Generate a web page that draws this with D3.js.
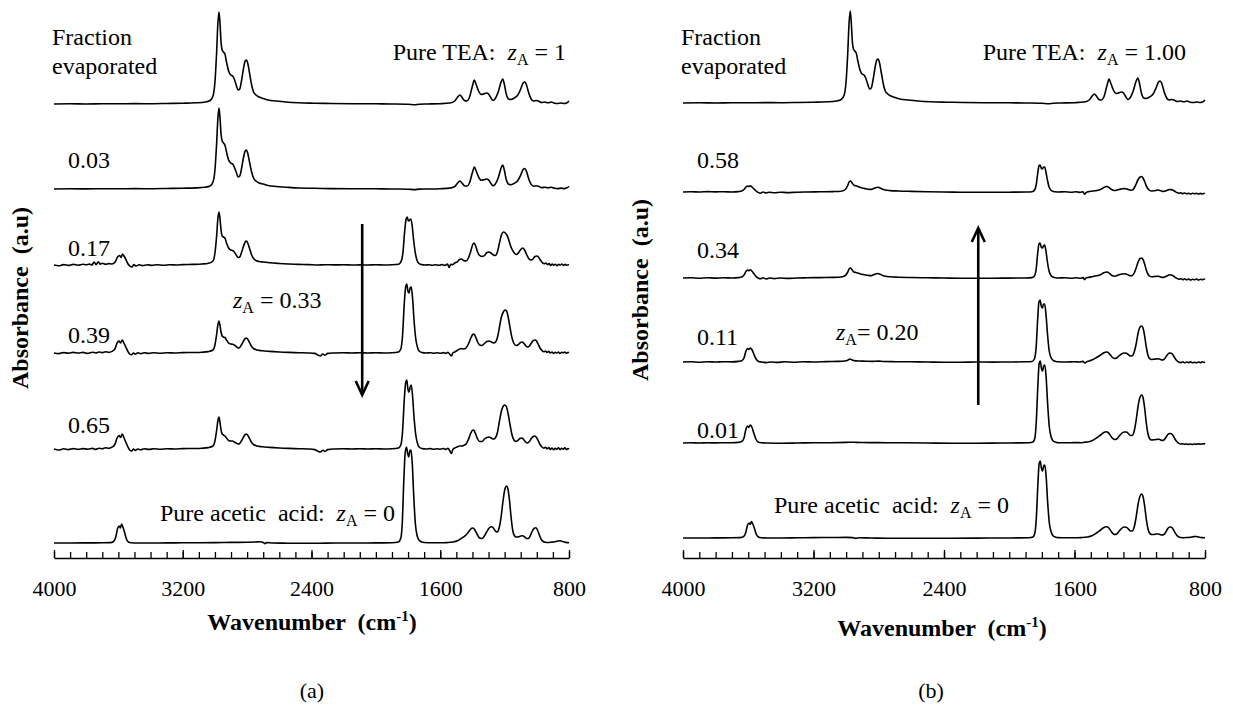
<!DOCTYPE html>
<html><head><meta charset="utf-8">
<script src="https://cdn.jsdelivr.net/npm/d3@7"></script>
<style>
html,body{margin:0;padding:0;background:#fff;}
svg{display:block;}
</style></head><body>
<svg id="chart" width="1233" height="708"></svg>
<script>
const wavenumberTicks = [4000, 3200, 2400, 1600, 800];
const specTEA = [[4000,0.000],[3900,0.002],[3800,0.000],[3700,0.003],[3600,0.002],[3500,0.004],[3400,0.003],[3300,0.005],[3200,0.008],[3120,0.012],[3060,0.020],[3030,0.035],[3012,0.08],[3000,0.22],[2990,0.50],[2982,0.80],[2975,0.92],[2969,0.82],[2962,0.62],[2955,0.54],[2947,0.52],[2938,0.50],[2928,0.42],[2915,0.33],[2902,0.29],[2890,0.28],[2880,0.25],[2868,0.19],[2856,0.14],[2846,0.15],[2834,0.24],[2822,0.36],[2812,0.43],[2804,0.44],[2795,0.40],[2784,0.30],[2772,0.19],[2760,0.12],[2745,0.09],[2725,0.07],[2700,0.055],[2670,0.04],[2620,0.03],[2560,0.02],[2480,0.012],[2380,0.008],[2280,0.005],[2150,0.003],[2000,0.002],[1900,0.000],[1800,-0.003],[1760,-0.008],[1730,-0.002],[1680,0.000],[1600,0.003],[1540,0.010],[1510,0.030],[1492,0.070],[1478,0.090],[1466,0.070],[1450,0.035],[1436,0.030],[1420,0.060],[1400,0.180],[1388,0.240],[1378,0.200],[1362,0.130],[1345,0.095],[1330,0.100],[1312,0.110],[1300,0.100],[1285,0.060],[1272,0.035],[1260,0.050],[1240,0.120],[1222,0.220],[1212,0.250],[1202,0.200],[1190,0.100],[1175,0.050],[1160,0.045],[1140,0.060],[1118,0.090],[1100,0.150],[1085,0.210],[1075,0.220],[1064,0.190],[1050,0.110],[1035,0.050],[1020,0.030],[1005,0.035],[990,0.030],[970,0.015],[950,0.020],[930,0.012],[910,0.020],[890,0.008],[870,0.005],[850,0.010],[830,0.005],[815,0.010],[800,0.030]];
const specA003 = [[4000,0.000],[3900,0.002],[3800,0.001],[3700,0.003],[3600,0.002],[3500,0.004],[3400,0.003],[3300,0.005],[3200,0.008],[3120,0.011],[3060,0.018],[3030,0.030],[3012,0.07],[3000,0.19],[2990,0.44],[2982,0.70],[2975,0.81],[2969,0.72],[2962,0.55],[2955,0.48],[2947,0.46],[2938,0.44],[2928,0.37],[2915,0.29],[2902,0.26],[2890,0.25],[2880,0.22],[2868,0.17],[2856,0.12],[2846,0.13],[2834,0.21],[2822,0.32],[2812,0.38],[2804,0.39],[2795,0.35],[2784,0.26],[2772,0.17],[2760,0.11],[2745,0.08],[2725,0.06],[2700,0.05],[2670,0.035],[2620,0.025],[2560,0.018],[2480,0.010],[2380,0.007],[2280,0.004],[2150,0.003],[2000,0.002],[1900,0.000],[1800,-0.002],[1760,-0.006],[1730,-0.001],[1680,0.000],[1600,0.003],[1540,0.009],[1510,0.025],[1492,0.060],[1478,0.080],[1466,0.062],[1450,0.032],[1436,0.028],[1420,0.055],[1400,0.165],[1388,0.220],[1378,0.185],[1362,0.120],[1345,0.088],[1330,0.092],[1312,0.100],[1300,0.092],[1285,0.055],[1272,0.032],[1260,0.046],[1240,0.110],[1222,0.210],[1212,0.240],[1202,0.190],[1190,0.095],[1175,0.048],[1160,0.043],[1140,0.056],[1118,0.085],[1100,0.140],[1085,0.195],[1075,0.205],[1064,0.175],[1050,0.100],[1035,0.046],[1020,0.028],[1005,0.032],[990,0.028],[970,0.014],[950,0.018],[930,0.011],[910,0.018],[890,0.007],[870,0.004],[850,0.009],[830,0.004],[815,0.009],[800,0.028]];
const specA017 = [[4000,0.000],[3970,-0.008],[3940,0.004],[3910,-0.004],[3880,0.006],[3850,-0.002],[3820,0.008],[3800,0.002],[3780,0.010],[3765,0.000],[3750,0.030],[3738,0.004],[3725,0.032],[3712,0.008],[3700,0.018],[3680,0.006],[3660,0.014],[3640,0.010],[3620,0.030],[3605,0.080],[3592,0.095],[3583,0.075],[3574,0.110],[3565,0.090],[3552,0.050],[3540,0.010],[3528,-0.012],[3516,-0.020],[3504,0.004],[3490,-0.010],[3470,0.002],[3450,-0.006],[3420,0.002],[3390,-0.004],[3360,0.003],[3320,-0.002],[3280,0.003],[3240,0.000],[3200,0.004],[3140,0.006],[3080,0.010],[3040,0.018],[3012,0.04],[3000,0.12],[2990,0.28],[2982,0.46],[2975,0.53],[2969,0.47],[2962,0.35],[2955,0.29],[2947,0.28],[2938,0.27],[2928,0.22],[2915,0.17],[2902,0.15],[2890,0.145],[2880,0.13],[2868,0.10],[2856,0.075],[2846,0.08],[2834,0.13],[2822,0.19],[2812,0.23],[2804,0.24],[2795,0.215],[2784,0.16],[2772,0.10],[2760,0.065],[2745,0.045],[2725,0.035],[2700,0.03],[2660,0.022],[2600,0.015],[2540,0.010],[2480,0.006],[2420,0.004],[2360,0.000],[2320,0.003],[2260,0.001],[2200,0.002],[2150,0.000],[2100,0.001],[2050,0.000],[2000,0.002],[1950,0.000],[1900,0.002],[1860,0.008],[1845,0.03],[1832,0.12],[1822,0.32],[1812,0.46],[1805,0.48],[1798,0.44],[1790,0.45],[1783,0.46],[1775,0.40],[1766,0.26],[1755,0.12],[1745,0.05],[1732,0.015],[1715,0.004],[1695,0.000],[1670,0.003],[1650,-0.002],[1630,0.002],[1610,-0.003],[1590,0.004],[1570,-0.004],[1555,0.010],[1545,-0.025],[1535,0.008],[1522,0.004],[1510,0.020],[1495,0.030],[1480,0.055],[1468,0.060],[1455,0.045],[1440,0.040],[1425,0.070],[1410,0.140],[1398,0.205],[1390,0.220],[1380,0.190],[1368,0.130],[1355,0.095],[1340,0.085],[1325,0.095],[1310,0.125],[1298,0.130],[1285,0.120],[1270,0.100],[1258,0.095],[1245,0.130],[1232,0.220],[1220,0.300],[1208,0.330],[1196,0.320],[1186,0.300],[1176,0.260],[1165,0.200],[1152,0.150],[1140,0.120],[1128,0.105],[1115,0.120],[1100,0.155],[1088,0.170],[1076,0.150],[1062,0.100],[1048,0.060],[1036,0.050],[1024,0.060],[1012,0.085],[1000,0.090],[990,0.080],[978,0.050],[966,0.025],[954,0.012],[944,0.020],[934,0.004],[924,0.014],[914,-0.004],[904,0.010],[894,-0.002],[884,0.008],[874,-0.006],[864,0.006],[854,0.000],[844,0.010],[834,-0.004],[824,0.006],[814,-0.002],[800,0.004]];
const specA039 = [[4000,0.000],[3970,-0.006],[3940,0.004],[3910,-0.002],[3880,0.006],[3850,0.000],[3820,0.006],[3790,-0.004],[3760,0.008],[3740,0.000],[3720,0.010],[3700,0.004],[3680,0.012],[3660,0.006],[3640,0.016],[3622,0.040],[3608,0.100],[3596,0.120],[3586,0.100],[3576,0.130],[3566,0.100],[3554,0.060],[3542,0.020],[3530,-0.010],[3518,-0.018],[3506,0.000],[3494,-0.012],[3480,0.002],[3460,-0.006],[3440,0.002],[3410,-0.004],[3380,0.003],[3340,-0.002],[3300,0.002],[3250,0.000],[3200,0.004],[3140,0.005],[3080,0.008],[3040,0.014],[3012,0.03],[3000,0.08],[2990,0.18],[2982,0.28],[2975,0.32],[2969,0.28],[2962,0.21],[2955,0.17],[2947,0.16],[2938,0.155],[2928,0.13],[2915,0.10],[2902,0.09],[2890,0.088],[2880,0.08],[2868,0.065],[2856,0.05],[2846,0.055],[2834,0.085],[2822,0.12],[2812,0.145],[2804,0.15],[2795,0.135],[2784,0.10],[2772,0.065],[2760,0.045],[2745,0.033],[2725,0.026],[2700,0.022],[2660,0.016],[2600,0.010],[2540,0.006],[2480,0.003],[2420,0.000],[2380,-0.004],[2360,-0.020],[2345,-0.030],[2330,-0.010],[2315,-0.022],[2300,-0.004],[2260,0.000],[2200,0.002],[2150,0.000],[2100,0.002],[2050,0.000],[2000,0.002],[1950,0.000],[1900,0.002],[1860,0.010],[1845,0.04],[1834,0.18],[1824,0.48],[1815,0.66],[1808,0.69],[1801,0.62],[1794,0.60],[1787,0.65],[1780,0.66],[1772,0.55],[1763,0.33],[1752,0.14],[1740,0.05],[1728,0.015],[1712,0.004],[1690,0.000],[1660,0.003],[1640,-0.002],[1620,0.002],[1600,-0.003],[1580,0.004],[1565,-0.004],[1552,0.006],[1540,-0.015],[1530,-0.030],[1522,0.000],[1510,0.010],[1495,0.025],[1480,0.040],[1468,0.045],[1455,0.040],[1440,0.050],[1425,0.090],[1410,0.150],[1398,0.185],[1390,0.190],[1380,0.160],[1368,0.110],[1355,0.080],[1340,0.075],[1325,0.095],[1310,0.115],[1296,0.120],[1282,0.110],[1268,0.100],[1256,0.110],[1244,0.160],[1232,0.260],[1220,0.360],[1208,0.410],[1198,0.430],[1188,0.420],[1178,0.360],[1166,0.250],[1154,0.150],[1142,0.095],[1130,0.075],[1118,0.080],[1105,0.100],[1093,0.110],[1082,0.100],[1070,0.075],[1058,0.060],[1046,0.070],[1034,0.100],[1022,0.125],[1012,0.130],[1002,0.120],[992,0.090],[980,0.050],[968,0.025],[956,0.012],[946,0.020],[936,0.006],[926,0.016],[916,0.000],[906,0.010],[896,-0.004],[886,0.008],[876,0.000],[866,0.010],[856,-0.004],[846,0.006],[836,0.002],[826,0.010],[816,-0.002],[806,0.006],[800,0.002]];
const specA065 = [[4000,0.000],[3970,-0.010],[3940,0.002],[3910,-0.006],[3880,0.004],[3850,-0.004],[3820,0.004],[3790,-0.002],[3760,0.006],[3740,-0.004],[3720,0.008],[3700,0.002],[3680,0.012],[3660,0.006],[3640,0.018],[3622,0.045],[3608,0.110],[3596,0.135],[3586,0.115],[3576,0.150],[3566,0.115],[3554,0.070],[3542,0.025],[3530,-0.010],[3518,-0.020],[3506,0.000],[3494,-0.014],[3480,0.000],[3460,-0.008],[3440,0.002],[3410,-0.004],[3380,0.002],[3340,-0.003],[3300,0.002],[3250,0.000],[3200,0.004],[3140,0.005],[3080,0.008],[3040,0.014],[3012,0.03],[3000,0.08],[2990,0.18],[2982,0.28],[2975,0.32],[2969,0.27],[2962,0.19],[2955,0.15],[2947,0.14],[2938,0.13],[2928,0.11],[2915,0.085],[2902,0.08],[2890,0.08],[2880,0.07],[2868,0.06],[2856,0.05],[2846,0.055],[2834,0.085],[2822,0.12],[2812,0.145],[2804,0.15],[2795,0.135],[2784,0.10],[2772,0.065],[2760,0.045],[2745,0.033],[2725,0.026],[2700,0.022],[2660,0.016],[2600,0.010],[2540,0.006],[2480,0.003],[2420,0.000],[2380,-0.006],[2360,-0.022],[2345,-0.030],[2330,-0.012],[2315,-0.024],[2300,-0.006],[2260,0.000],[2200,0.002],[2150,0.000],[2100,0.002],[2050,0.000],[2000,0.002],[1950,0.000],[1900,0.002],[1860,0.010],[1845,0.04],[1834,0.18],[1824,0.48],[1815,0.66],[1808,0.69],[1801,0.60],[1794,0.57],[1787,0.62],[1780,0.64],[1772,0.53],[1763,0.32],[1752,0.14],[1740,0.05],[1728,0.015],[1712,0.004],[1690,0.000],[1660,0.004],[1640,-0.002],[1620,0.003],[1600,-0.002],[1580,0.005],[1565,-0.004],[1552,0.008],[1540,-0.020],[1530,-0.045],[1522,-0.005],[1510,0.010],[1495,0.020],[1480,0.030],[1468,0.030],[1455,0.035],[1440,0.050],[1425,0.095],[1410,0.160],[1398,0.190],[1390,0.185],[1380,0.150],[1368,0.100],[1355,0.075],[1340,0.075],[1325,0.100],[1310,0.115],[1296,0.120],[1282,0.108],[1268,0.100],[1256,0.115],[1244,0.170],[1232,0.280],[1220,0.380],[1208,0.430],[1198,0.440],[1188,0.420],[1178,0.350],[1166,0.240],[1154,0.140],[1142,0.090],[1130,0.075],[1118,0.085],[1105,0.105],[1093,0.110],[1082,0.095],[1070,0.070],[1058,0.060],[1046,0.075],[1034,0.105],[1022,0.125],[1012,0.130],[1002,0.115],[992,0.085],[980,0.045],[968,0.020],[956,0.008],[946,0.018],[936,0.002],[926,0.014],[916,-0.004],[906,0.010],[896,-0.008],[886,0.006],[876,-0.004],[866,0.012],[856,-0.006],[846,0.008],[836,-0.002],[826,0.012],[816,-0.006],[806,0.004],[800,-0.002]];
const specAacetic = [[4000,0.000],[3900,0.000],[3800,0.001],[3700,0.002],[3650,0.004],[3630,0.015],[3616,0.060],[3604,0.150],[3595,0.170],[3588,0.150],[3580,0.190],[3572,0.160],[3562,0.110],[3550,0.040],[3538,0.010],[3520,0.002],[3480,0.000],[3400,0.000],[3300,0.001],[3200,0.002],[3100,0.003],[3000,0.004],[2900,0.006],[2800,0.008],[2750,0.010],[2720,0.012],[2700,0.006],[2690,-0.006],[2680,0.004],[2640,0.000],[2550,-0.002],[2450,-0.003],[2350,-0.002],[2250,0.000],[2100,0.000],[2000,0.001],[1900,0.003],[1860,0.010],[1845,0.05],[1836,0.20],[1827,0.60],[1818,0.90],[1810,0.96],[1803,0.90],[1796,0.86],[1789,0.92],[1782,0.93],[1774,0.80],[1765,0.48],[1755,0.20],[1743,0.07],[1730,0.025],[1715,0.010],[1700,0.005],[1650,0.002],[1600,0.002],[1560,0.004],[1520,0.010],[1490,0.025],[1465,0.050],[1440,0.080],[1420,0.120],[1405,0.148],[1396,0.150],[1385,0.130],[1370,0.085],[1355,0.050],[1342,0.045],[1328,0.065],[1312,0.110],[1296,0.150],[1282,0.162],[1270,0.150],[1258,0.120],[1246,0.110],[1234,0.150],[1222,0.260],[1210,0.420],[1198,0.540],[1188,0.570],[1180,0.545],[1170,0.430],[1160,0.260],[1150,0.130],[1140,0.075],[1128,0.060],[1114,0.062],[1100,0.070],[1088,0.072],[1076,0.062],[1064,0.045],[1052,0.045],[1040,0.075],[1028,0.120],[1016,0.148],[1006,0.152],[996,0.130],[984,0.080],[972,0.035],[960,0.015],[948,0.008],[930,0.005],[910,0.008],[890,0.012],[870,0.020],[855,0.022],[840,0.015],[820,0.006],[800,0.003]];
const specB058 = [[4000,0.000],[3950,0.003],[3900,0.000],[3850,0.004],[3800,0.001],[3750,0.003],[3700,0.000],[3660,0.004],[3640,0.010],[3626,0.025],[3614,0.050],[3604,0.060],[3596,0.055],[3588,0.062],[3578,0.052],[3566,0.032],[3552,0.010],[3540,-0.004],[3525,-0.012],[3510,0.000],[3490,-0.010],[3470,-0.002],[3440,-0.008],[3400,-0.002],[3360,-0.006],[3300,-0.002],[3240,0.000],[3160,0.002],[3080,0.004],[3030,0.008],[3005,0.025],[2990,0.065],[2980,0.105],[2973,0.110],[2965,0.095],[2952,0.068],[2940,0.062],[2928,0.056],[2912,0.045],[2895,0.038],[2880,0.032],[2865,0.028],[2850,0.026],[2835,0.032],[2820,0.042],[2806,0.048],[2795,0.042],[2780,0.030],[2760,0.020],[2730,0.014],[2680,0.010],[2600,0.006],[2500,0.002],[2400,0.000],[2300,-0.002],[2200,-0.003],[2100,-0.003],[2000,-0.002],[1900,0.000],[1860,0.003],[1846,0.016],[1835,0.07],[1826,0.18],[1818,0.26],[1811,0.27],[1804,0.24],[1797,0.23],[1790,0.25],[1783,0.25],[1775,0.20],[1766,0.12],[1756,0.05],[1744,0.018],[1730,0.006],[1715,0.002],[1700,0.000],[1660,0.002],[1620,-0.002],[1590,0.002],[1565,-0.004],[1548,0.002],[1538,-0.022],[1528,-0.004],[1512,0.004],[1495,0.008],[1475,0.012],[1455,0.018],[1438,0.028],[1420,0.045],[1405,0.055],[1396,0.052],[1385,0.040],[1370,0.022],[1355,0.015],[1342,0.018],[1328,0.026],[1312,0.030],[1298,0.034],[1284,0.032],[1270,0.024],[1258,0.018],[1246,0.020],[1234,0.040],[1222,0.080],[1210,0.125],[1198,0.150],[1188,0.155],[1180,0.140],[1170,0.105],[1160,0.062],[1150,0.032],[1140,0.016],[1128,0.010],[1114,0.012],[1100,0.016],[1088,0.020],[1076,0.016],[1064,0.008],[1052,0.006],[1040,0.012],[1028,0.020],[1016,0.025],[1006,0.024],[996,0.018],[984,0.006],[972,-0.006],[960,-0.012],[948,-0.008],[936,-0.016],[924,-0.010],[912,-0.018],[900,-0.012],[888,-0.020],[876,-0.012],[864,-0.018],[852,-0.012],[840,-0.020],[828,-0.014],[816,-0.020],[806,-0.012],[800,-0.016]];
const specB034 = [[4000,0.000],[3950,0.002],[3900,-0.002],[3850,0.003],[3800,-0.001],[3750,0.002],[3700,0.000],[3660,0.004],[3640,0.010],[3626,0.030],[3614,0.065],[3604,0.080],[3596,0.072],[3588,0.082],[3578,0.070],[3566,0.045],[3552,0.015],[3540,0.000],[3525,-0.008],[3510,0.002],[3490,-0.010],[3470,0.000],[3440,-0.006],[3400,0.000],[3360,-0.004],[3300,0.000],[3240,0.002],[3160,0.004],[3080,0.006],[3030,0.010],[3005,0.025],[2990,0.060],[2980,0.095],[2973,0.100],[2965,0.085],[2952,0.060],[2940,0.055],[2928,0.050],[2912,0.040],[2895,0.035],[2880,0.030],[2865,0.026],[2850,0.024],[2835,0.030],[2820,0.040],[2806,0.045],[2795,0.040],[2780,0.028],[2760,0.018],[2730,0.012],[2680,0.008],[2600,0.005],[2500,0.002],[2400,0.000],[2300,-0.002],[2200,-0.002],[2100,-0.002],[2000,-0.001],[1900,0.000],[1860,0.004],[1846,0.020],[1835,0.09],[1826,0.24],[1818,0.34],[1811,0.35],[1804,0.31],[1797,0.30],[1790,0.32],[1783,0.33],[1775,0.27],[1766,0.16],[1756,0.07],[1744,0.025],[1730,0.008],[1715,0.002],[1700,0.000],[1660,0.002],[1620,-0.002],[1590,0.002],[1565,-0.002],[1548,0.004],[1538,-0.016],[1528,0.002],[1512,0.006],[1495,0.012],[1475,0.020],[1455,0.025],[1438,0.035],[1420,0.052],[1405,0.060],[1396,0.058],[1385,0.045],[1370,0.025],[1355,0.018],[1342,0.022],[1328,0.032],[1312,0.038],[1298,0.042],[1284,0.040],[1270,0.030],[1258,0.022],[1246,0.025],[1234,0.050],[1222,0.100],[1210,0.160],[1198,0.195],[1188,0.200],[1180,0.185],[1170,0.140],[1160,0.080],[1150,0.040],[1140,0.020],[1128,0.012],[1114,0.014],[1100,0.016],[1088,0.018],[1076,0.012],[1064,0.006],[1052,0.008],[1040,0.015],[1028,0.025],[1016,0.032],[1006,0.030],[996,0.022],[984,0.008],[972,-0.004],[960,-0.012],[948,-0.006],[936,-0.016],[924,-0.008],[912,-0.018],[900,-0.010],[888,-0.020],[876,-0.012],[864,-0.018],[852,-0.010],[840,-0.020],[828,-0.012],[816,-0.018],[806,-0.010],[800,-0.016]];
const specB011 = [[4000,0.000],[3950,0.002],[3900,-0.002],[3850,0.002],[3800,0.000],[3750,0.003],[3700,0.001],[3660,0.006],[3640,0.012],[3626,0.040],[3614,0.110],[3604,0.135],[3596,0.125],[3588,0.140],[3578,0.125],[3566,0.080],[3552,0.030],[3540,0.008],[3520,0.000],[3490,-0.006],[3460,0.000],[3420,-0.004],[3380,0.002],[3320,-0.002],[3260,0.002],[3200,0.000],[3120,0.004],[3050,0.006],[3010,0.010],[2990,0.018],[2978,0.030],[2968,0.024],[2950,0.014],[2920,0.010],[2880,0.008],[2840,0.006],[2800,0.009],[2770,0.005],[2700,0.003],[2600,0.002],[2500,0.000],[2400,-0.002],[2300,-0.002],[2200,0.000],[2100,-0.001],[2000,0.000],[1900,0.002],[1860,0.005],[1846,0.030],[1835,0.15],[1826,0.42],[1818,0.60],[1811,0.62],[1804,0.56],[1797,0.54],[1790,0.58],[1783,0.58],[1775,0.48],[1766,0.29],[1756,0.12],[1744,0.045],[1730,0.015],[1715,0.006],[1700,0.002],[1650,0.000],[1600,0.003],[1570,0.000],[1550,0.006],[1535,-0.012],[1525,0.004],[1510,0.010],[1490,0.022],[1465,0.045],[1440,0.070],[1420,0.092],[1405,0.100],[1396,0.098],[1385,0.080],[1370,0.050],[1355,0.035],[1342,0.040],[1328,0.060],[1312,0.080],[1296,0.090],[1282,0.088],[1270,0.075],[1258,0.060],[1246,0.062],[1234,0.100],[1222,0.180],[1210,0.290],[1198,0.350],[1188,0.360],[1180,0.340],[1170,0.260],[1160,0.150],[1150,0.070],[1140,0.035],[1128,0.025],[1114,0.028],[1100,0.030],[1088,0.032],[1076,0.028],[1064,0.020],[1052,0.025],[1040,0.050],[1028,0.078],[1016,0.090],[1006,0.088],[996,0.070],[984,0.038],[972,0.012],[960,0.000],[948,-0.006],[936,0.002],[924,-0.008],[912,0.000],[900,-0.006],[888,0.002],[876,-0.008],[864,-0.002],[852,-0.008],[840,0.000],[828,-0.006],[816,0.002],[806,-0.004],[800,0.002]];
const specB001 = [[4000,0.000],[3950,0.002],[3900,0.000],[3850,0.002],[3800,0.001],[3750,0.003],[3700,0.002],[3660,0.006],[3640,0.015],[3626,0.050],[3614,0.140],[3604,0.170],[3596,0.155],[3588,0.180],[3578,0.160],[3566,0.100],[3552,0.035],[3540,0.010],[3520,0.002],[3480,0.000],[3400,-0.002],[3300,0.000],[3200,0.002],[3100,0.003],[3000,0.006],[2960,0.008],[2940,0.006],[2900,0.005],[2850,0.004],[2750,0.003],[2650,0.002],[2500,0.000],[2350,-0.002],[2200,-0.002],[2050,0.000],[1950,0.001],[1880,0.003],[1855,0.010],[1843,0.050],[1834,0.22],[1825,0.56],[1817,0.79],[1810,0.82],[1803,0.75],[1796,0.72],[1789,0.77],[1782,0.78],[1774,0.66],[1765,0.40],[1755,0.17],[1743,0.06],[1730,0.020],[1715,0.008],[1700,0.003],[1650,0.002],[1600,0.004],[1560,0.003],[1540,0.008],[1520,0.010],[1490,0.025],[1465,0.050],[1440,0.080],[1420,0.105],[1405,0.112],[1396,0.108],[1385,0.088],[1370,0.052],[1355,0.035],[1342,0.040],[1328,0.065],[1312,0.095],[1296,0.110],[1282,0.110],[1270,0.095],[1258,0.075],[1246,0.075],[1234,0.120],[1222,0.230],[1210,0.370],[1198,0.460],[1188,0.480],[1180,0.455],[1170,0.350],[1160,0.200],[1150,0.095],[1140,0.045],[1128,0.030],[1114,0.032],[1100,0.035],[1088,0.038],[1076,0.035],[1064,0.025],[1052,0.030],[1040,0.055],[1028,0.085],[1016,0.095],[1006,0.092],[996,0.075],[984,0.040],[972,0.012],[960,-0.004],[948,-0.010],[936,-0.008],[924,-0.012],[912,-0.010],[900,-0.014],[888,-0.010],[876,-0.014],[864,-0.010],[852,-0.013],[840,-0.009],[828,-0.012],[816,-0.008],[806,-0.010],[800,0.000]];
const specBacetic = [[4000,0.000],[3900,0.000],[3800,0.001],[3700,0.002],[3650,0.004],[3630,0.012],[3616,0.050],[3604,0.130],[3595,0.150],[3588,0.135],[3580,0.165],[3572,0.140],[3562,0.095],[3550,0.035],[3538,0.010],[3520,0.002],[3480,0.000],[3400,0.000],[3300,0.002],[3200,0.004],[3100,0.005],[3000,0.006],[2960,0.004],[2940,-0.004],[2920,0.002],[2850,0.000],[2750,-0.002],[2650,-0.003],[2500,-0.003],[2350,-0.002],[2200,-0.001],[2050,0.000],[1950,0.001],[1880,0.003],[1855,0.010],[1843,0.050],[1834,0.20],[1825,0.52],[1817,0.74],[1810,0.77],[1803,0.70],[1796,0.67],[1789,0.72],[1782,0.73],[1774,0.62],[1765,0.37],[1755,0.16],[1743,0.06],[1730,0.020],[1715,0.008],[1700,0.004],[1650,0.002],[1600,0.002],[1560,0.004],[1520,0.010],[1490,0.025],[1465,0.050],[1440,0.080],[1420,0.105],[1405,0.112],[1396,0.110],[1385,0.090],[1370,0.055],[1355,0.035],[1342,0.040],[1328,0.065],[1312,0.095],[1296,0.110],[1282,0.108],[1270,0.090],[1258,0.070],[1246,0.070],[1234,0.110],[1222,0.210],[1210,0.340],[1198,0.420],[1188,0.440],[1180,0.415],[1170,0.320],[1160,0.190],[1150,0.095],[1140,0.050],[1128,0.035],[1114,0.035],[1100,0.040],[1088,0.040],[1076,0.035],[1064,0.030],[1052,0.035],[1040,0.060],[1028,0.095],[1016,0.110],[1006,0.108],[996,0.090],[984,0.055],[972,0.025],[960,0.010],[948,0.005],[930,0.003],[910,0.005],[890,0.008],[870,0.014],[855,0.015],[840,0.010],[820,0.004],[800,0.002]];

const spectraA = [specTEA, specA003, specA017, specA039, specA065, specAacetic];
const offsetsA = [4.54, 3.69, 2.93, 2.05, 1.09, 0.15];
const fractionLabelsA = ["", "0.03", "0.17", "0.39", "0.65", ""];
const spectraB = [specTEA, specB058, specB034, specB011, specB001, specBacetic];
const offsetsB = [4.55, 3.66, 2.80, 1.96, 1.15, 0.20];
const fractionLabelsB = ["", "0.58", "0.34", "0.11", "0.01", ""];
const zAValues = ["0.33", "0.20"];
const pureTEAValues = ["1", "1.00"];

const FONT = '"Liberation Serif"';
const svg = d3.select("#chart");
const yScale = d3.scaleLinear().domain([0, 5.58]).range([558, 0]);

function txt(g, x, y, size) {
  return g.append("text").attr("x", x).attr("y", y)
    .attr("xml:space", "preserve")
    .style("font-family", FONT).style("font-size", size).style("fill", "#000");
}
function zText(sel, prefix, value, eqSpace) {
  if (prefix) sel.append("tspan").text(prefix);
  sel.append("tspan").style("font-style", "italic").text("z");
  sel.append("tspan").style("font-size", "16px").attr("dy", 5).text("A");
  sel.append("tspan").attr("dy", -5).text((eqSpace ? " = " : "= ") + value);
}

function drawPanel(cfg) {
  const g = svg.append("g");
  const x = d3.scaleLinear().domain([4000, 800]).range([cfg.x0, cfg.x1]);

  cfg.spectra.forEach((spec, i) => {
    const line = d3.line()
      .x(d => x(d[0]))
      .y(d => yScale(d[1] + cfg.offsets[i]))
      .curve(d3.curveMonotoneX);
    g.append("path").datum(spec)
      .attr("d", line).attr("fill", "none").attr("stroke", "#000")
      .attr("stroke-width", 1.6).attr("stroke-linejoin", "round");
  });

  const axisY = yScale(0);
  const minor = g.append("g").attr("transform", `translate(0,${axisY})`)
    .call(d3.axisBottom(x).tickValues(d3.range(800, 4001, 100)).tickSize(-6).tickFormat(""));
  minor.select(".domain").remove();
  minor.selectAll("line").attr("stroke-width", 1.3);
  const major = g.append("g").attr("transform", `translate(0,${axisY})`)
    .call(d3.axisBottom(x).tickValues(wavenumberTicks).tickSizeInner(-8).tickSizeOuter(0).tickPadding(22).tickFormat(d3.format("d")));
  major.select(".domain").attr("stroke-width", 1.6);
  major.selectAll("line").attr("stroke-width", 1.3);
  major.selectAll("text").style("font-size", "22px").style("font-family", FONT);

  const xt = txt(g, cfg.titleX, cfg.titleY, "24px").attr("text-anchor", "middle")
    .style("font-weight", "bold").style("white-space", "pre");
  xt.append("tspan").text("Wavenumber  (cm");
  xt.append("tspan").style("font-size", "15px").attr("dy", -9).text("-1");
  xt.append("tspan").attr("dy", 9).text(")");

  txt(g, 0, 0, "24px").attr("transform", `translate(${cfg.yLabelX},${cfg.yLabelY}) rotate(-90)`)
    .attr("text-anchor", "middle").style("font-weight", "bold")
    .style("white-space", "pre").text("Absorbance  (a.u)");

  txt(g, cfg.letterX, 698, "22px").attr("text-anchor", "middle").text(cfg.letter);

  const fs = "24px";
  txt(g, cfg.x0 - 2, 45, fs).text("Fraction");
  txt(g, cfg.x0 - 2, 74, fs).text("evaporated");
  const tea = txt(g, cfg.teaX, 60, fs).attr("text-anchor", "end").style("white-space", "pre");
  zText(tea, "Pure TEA:  ", cfg.pureTEA, true);

  cfg.labels.forEach((lab, i) => {
    if (!lab) return;
    txt(g, cfg.x0 + 14, cfg.labelY[i], fs).text(lab);
  });

  const za = txt(g, cfg.zaX, cfg.zaY, fs).style("white-space", "pre");
  zText(za, "", cfg.zA, cfg.zaSpace);

  const pa = txt(g, cfg.paX, cfg.paY, fs).style("white-space", "pre");
  zText(pa, "Pure acetic  acid:  ", "0", true);

  const ax = x(cfg.arrowWn);
  const y1 = yScale(cfg.arrowFrom), y2 = yScale(cfg.arrowTo);
  const dir = y2 > y1 ? 1 : -1;
  g.append("line").attr("x1", ax).attr("x2", ax).attr("y1", y1).attr("y2", y2 - dir * 1)
    .attr("stroke", "#000").attr("stroke-width", 2.6);
  g.append("path").attr("d", `M${ax - 6.5},${y2 - dir * 14} L${ax},${y2} L${ax + 6.5},${y2 - dir * 14}`)
    .attr("fill", "none").attr("stroke", "#000").attr("stroke-width", 2.6);
}

drawPanel({
  x0: 54, x1: 569, spectra: spectraA, offsets: offsetsA, labels: fractionLabelsA,
  labelY: [0, 168, 256, 343, 433, 0], titleX: 312, titleY: 630, yLabelX: 28, yLabelY: 298,
  letter: "(a)", letterX: 312, teaX: 566, pureTEA: pureTEAValues[0], zA: zAValues[0], zaX: 233, zaY: 308, zaSpace: true,
  paX: 160, paY: 521, arrowWn: 2085, arrowFrom: 3.34, arrowTo: 1.63
});
drawPanel({
  x0: 683, x1: 1205, spectra: spectraB, offsets: offsetsB, labels: fractionLabelsB,
  labelY: [0, 168, 258, 345, 438, 0], titleX: 942, titleY: 636, yLabelX: 648, yLabelY: 290,
  letter: "(b)", letterX: 931, teaX: 1186, pureTEA: pureTEAValues[1], zA: zAValues[1], zaX: 836, zaY: 340, zaSpace: false,
  paX: 774, paY: 513, arrowWn: 2190, arrowFrom: 1.53, arrowTo: 3.30
});
</script>
</body></html>
